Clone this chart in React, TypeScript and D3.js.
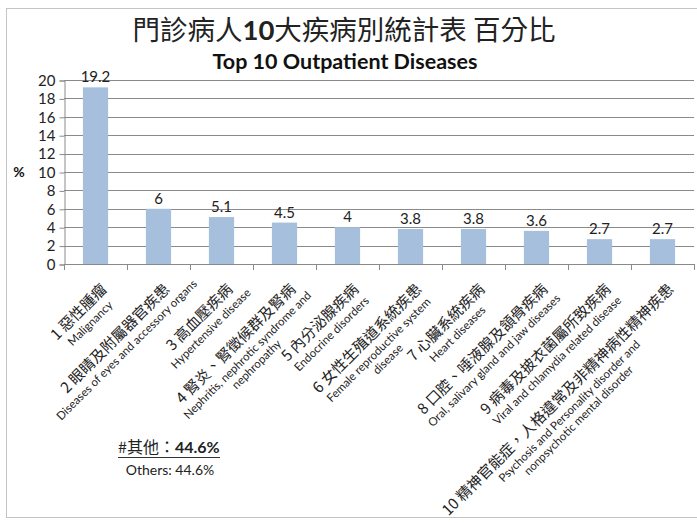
import { useEffect, useRef } from "react"
import * as d3 from "d3"

const labelZh = [
  "1 惡性腫瘤",
  "2 眼睛及附屬器官疾患",
  "3 高血壓疾病",
  "4 腎炎、腎徵候群及腎病",
  "5 內分泌腺疾病",
  "6 女性生殖道系統疾患",
  "7 心臟系統疾病",
  "8 口腔、唾液腺及頷骨疾病",
  "9 病毒及披衣菌屬所致疾病",
  "10 精神官能症，人格違常及非精神病性精神疾患",
]

const labelEn = [
  ["Malignancy"],
  ["Diseases of eyes and accessory organs"],
  ["Hypertensive disease"],
  ["Nephritis, nephrotic syndrome and", "nephropathy"],
  ["Endocrine disorders"],
  ["Female reproductive system", "disease"],
  ["Heart diseases"],
  ["Oral, salivary gland and jaw diseases"],
  ["Viral and chlamydia related disease"],
  ["Psychosis and Personality disorder and", "nonpsychotic mental disorder"],
]

const values = [19.2, 6, 5.1, 4.5, 4, 3.8, 3.8, 3.6, 2.7, 2.7]
const yTicks = [0, 2, 4, 6, 8, 10, 12, 14, 16, 18, 20]

const W = 697
const H = 523
const zhFont = "'Noto Sans CJK TC', sans-serif"
const enFont = "Lato, 'Open Sans', sans-serif"

export default function App() {
  const svgRef = useRef<SVGSVGElement>(null)

  useEffect(() => {
    if (!svgRef.current) return
    const svg = d3.select(svgRef.current)
    svg.selectAll("*").remove()

    // moldura
    svg
      .append("rect")
      .attr("x", 6.5)
      .attr("y", 8.5)
      .attr("width", W)
      .attr("height", 509)
      .attr("fill", "#fff")
      .attr("stroke", "#c4c4c4")

    const x = d3
      .scaleBand<number>()
      .domain(d3.range(values.length))
      .range([64, 694])
      .paddingInner(0.6)
      .paddingOuter(0.3)
    const step = x.step()
    const x0 = 64
    const cx = (i: number) => x0 + step * (i + 0.5)
    const y = d3.scaleLinear().domain([0, 20]).range([264, 80])

    // títulos
    svg
      .append("text")
      .attr("x", 344)
      .attr("y", 40)
      .attr("text-anchor", "middle")
      .attr("font-family", zhFont)
      .attr("font-size", 27.5)
      .attr("fill", "#222")
      .call((t) => {
        t.append("tspan").text("門診病人")
        t.append("tspan").attr("font-weight", "bold").attr("font-family", enFont).text("10")
        t.append("tspan").text("大疾病別統計表 百分比")
      })

    svg
      .append("text")
      .attr("x", 345)
      .attr("y", 69)
      .attr("text-anchor", "middle")
      .attr("font-family", enFont)
      .attr("font-weight", "bold")
      .attr("font-size", 21.5)
      .attr("fill", "#111")
      .text("Top 10 Outpatient Diseases")

    // grade
    svg
      .append("g")
      .selectAll("line")
      .data(yTicks.filter((d) => d > 0))
      .enter()
      .append("line")
      .attr("x1", 64)
      .attr("x2", 694)
      .attr("y1", (d) => Math.round(y(d)) + 0.5)
      .attr("y2", (d) => Math.round(y(d)) + 0.5)
      .attr("stroke", "#8a8a8a")

    // eixo y
    const yAxis = svg
      .append("g")
      .attr("transform", "translate(64.5,0.5)")
      .call(d3.axisLeft(y).tickValues(yTicks).tickSize(5).tickPadding(4))
    yAxis.select(".domain").attr("stroke", "#8a8a8a")
    yAxis.selectAll(".tick line").attr("stroke", "#8a8a8a")
    yAxis
      .selectAll(".tick text")
      .attr("font-family", enFont)
      .attr("font-size", 15)
      .attr("fill", "#222")

    svg
      .append("text")
      .attr("x", 19)
      .attr("y", 177)
      .attr("text-anchor", "middle")
      .attr("font-family", enFont)
      .attr("font-weight", "bold")
      .attr("font-size", 14)
      .attr("fill", "#111")
      .text("%")

    // barras
    svg
      .append("g")
      .selectAll("rect")
      .data(values)
      .enter()
      .append("rect")
      .attr("x", (_, i) => x(i)!)
      .attr("y", (d) => y(d))
      .attr("width", x.bandwidth())
      .attr("height", (d) => 264 - y(d))
      .attr("fill", "#a6bfdd")

    svg
      .append("g")
      .selectAll("text")
      .data(values)
      .enter()
      .append("text")
      .attr("x", (_, i) => cx(i))
      .attr("y", (d) => y(d) - 5)
      .attr("text-anchor", "middle")
      .attr("font-family", enFont)
      .attr("font-size", 15)
      .attr("fill", "#222")
      .text((d) => String(d))

    // eixo x
    svg
      .append("line")
      .attr("x1", 64)
      .attr("x2", 694)
      .attr("y1", 264.5)
      .attr("y2", 264.5)
      .attr("stroke", "#8a8a8a")
    svg
      .append("g")
      .selectAll("line")
      .data(d3.range(values.length + 1))
      .enter()
      .append("line")
      .attr("x1", (d) => Math.round(x0 + step * d) + 0.5)
      .attr("x2", (d) => Math.round(x0 + step * d) + 0.5)
      .attr("y1", 264)
      .attr("y2", 270)
      .attr("stroke", "#8a8a8a")

    // rótulos inclinados
    labelZh.forEach((zh, i) => {
      const g = svg.append("g").attr("transform", `translate(${cx(i) + 3},281) rotate(-45)`)
      const first = g
        .append("text")
        .attr("x", 0)
        .attr("y", 13)
        .attr("text-anchor", "end")
        .attr("font-family", zhFont)
        .attr("font-size", 15)
        .attr("fill", "#222")
        .text(zh)
      const len = (first.node() as SVGTextElement).getComputedTextLength()
      labelEn[i].forEach((line, j) => {
        g.append("text")
          .attr("x", -len / 2)
          .attr("y", 28 + j * 13)
          .attr("text-anchor", "middle")
          .attr("font-family", enFont)
          .attr("font-size", 11.5)
          .attr("fill", "#222")
          .text(line)
      })
    })

    // nota de rodapé
    svg
      .append("text")
      .attr("x", 118)
      .attr("y", 453)
      .attr("font-family", zhFont)
      .attr("font-size", 16)
      .attr("fill", "#222")
      .call((t) => {
        t.append("tspan").text("#其他：")
        t.append("tspan").attr("font-family", enFont).attr("font-weight", "bold").text("44.6%")
      })
    svg
      .append("line")
      .attr("x1", 118)
      .attr("x2", 220)
      .attr("y1", 457.5)
      .attr("y2", 457.5)
      .attr("stroke", "#333")
    svg
      .append("text")
      .attr("x", 170)
      .attr("y", 475)
      .attr("text-anchor", "middle")
      .attr("font-family", enFont)
      .attr("font-size", 14)
      .attr("fill", "#222")
      .text("Others: 44.6%")
  }, [])

  return (
    <div style={{ position: "absolute", left: 0, top: 0, width: W, height: H, background: "#fff" }}>
      <svg ref={svgRef} width={W} height={H} style={{ display: "block" }} />
    </div>
  )
}
